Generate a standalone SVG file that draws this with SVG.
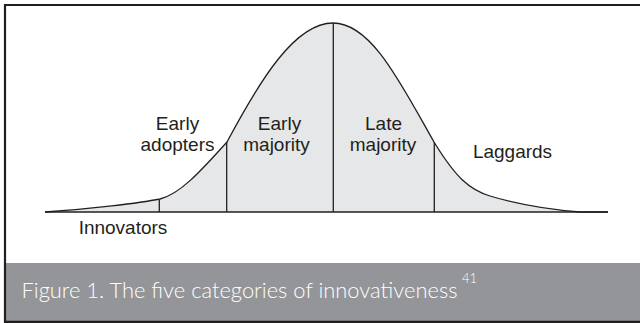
<svg xmlns="http://www.w3.org/2000/svg" width="640" height="323" viewBox="0 0 640 323">
<style>
.lbl{font-family:"Liberation Sans",Arial,sans-serif;font-size:19px;fill:#231f20;text-anchor:middle}
.div{stroke:#231f20;stroke-width:1.3;fill:none}
.cap{font-family:Lato,"Open Sans",sans-serif;fill:#ffffff;font-weight:300}
</style>
<rect x="0" y="0" width="640" height="323" fill="#ffffff"/>
<rect x="5" y="263" width="635" height="58" fill="#939598"/>
<path d="M5,323 L5,5 L640,5" fill="none" stroke="#231f20" stroke-width="2.2"/>
<line x1="5" y1="321.8" x2="640" y2="321.8" stroke="#231f20" stroke-width="2.2"/>
<g id="curve">
<path d="M45,212 C90,209 140,203 160,199 C180,194 200,172 227,142 C260,80 295,23 333,23 C371,23 400,82 434,142 C456,178 470,190 490,196 C520,205 555,210 580,212 L608,212 Z" fill="#e6e7e8" stroke="none"/>
<path d="M45,212 C90,209 140,203 160,199 C180,194 200,172 227,142 C260,80 295,23 333,23 C371,23 400,82 434,142 C456,178 470,190 490,196 C520,205 555,210 580,212 L608,212" class="div"/>
<line x1="45" y1="212" x2="608" y2="212" class="div"/>
</g>
<g id="dividers">
<line x1="159.3" y1="199.5" x2="159.3" y2="212" class="div"/>
<line x1="226.7" y1="142" x2="226.7" y2="212" class="div"/>
<line x1="333.3" y1="23" x2="333.3" y2="212" class="div"/>
<line x1="434.3" y1="142" x2="434.3" y2="212" class="div"/>
</g>
<g id="innovators"><text class="lbl" x="123" y="234">Innovators</text></g>
<g id="early-adopters"><text class="lbl" x="177.5" y="130">Early</text><text class="lbl" x="177.5" y="150.5">adopters</text></g>
<g id="early-majority"><text class="lbl" x="279.5" y="130">Early</text><text class="lbl" x="276.5" y="150.5">majority</text></g>
<g id="late-majority"><text class="lbl" x="383.5" y="129.5">Late</text><text class="lbl" x="383" y="150.5">majority</text></g>
<g id="laggards"><text class="lbl" x="512.5" y="158">Laggards</text></g>
<g id="caption">
<text class="cap" x="21.5" y="298" font-size="22"><tspan textLength="436" lengthAdjust="spacingAndGlyphs">Figure 1. The five categories of innovativeness</tspan><tspan x="462" y="283" font-size="13">41</tspan></text>
</g>
</svg>
